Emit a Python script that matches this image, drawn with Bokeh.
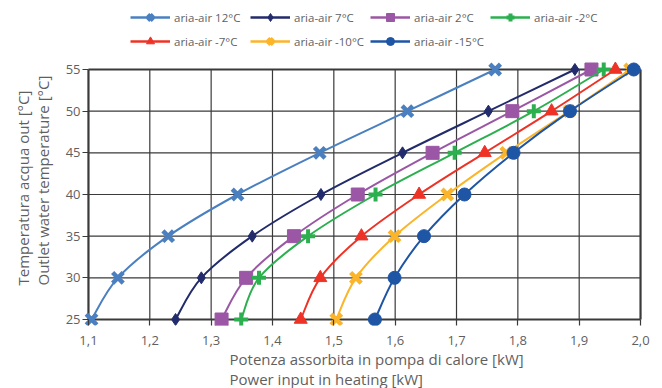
import math
from bokeh.plotting import figure
from bokeh.models import (Legend, LegendItem, FixedTicker, CustomJSTickFormatter,
                          Range1d, ColumnDataSource, Title)
from bokeh.embed import file_html
from bokeh.resources import INLINE

# ---------------- data ----------------
temps = [25, 30, 35, 40, 45, 50, 55]
labels = ["aria-air 12°C", "aria-air 7°C", "aria-air 2°C", "aria-air -2°C",
          "aria-air -7°C", "aria-air -10°C", "aria-air -15°C"]
p_12 = [1.105, 1.148, 1.230, 1.343, 1.477, 1.620, 1.763]
p_7 = [1.242, 1.284, 1.367, 1.479, 1.612, 1.752, 1.893]
p_2 = [1.317, 1.357, 1.435, 1.539, 1.661, 1.791, 1.920]
p_m2 = [1.349, 1.378, 1.458, 1.568, 1.697, 1.826, 1.940]
p_m7 = [1.446, 1.478, 1.545, 1.639, 1.746, 1.855, 1.959]
p_m10 = [1.504, 1.536, 1.599, 1.685, 1.781, 1.884, 1.983]
p_m15 = [1.567, 1.599, 1.647, 1.713, 1.793, 1.885, 1.989]
x_ticks = [1.1, 1.2, 1.3, 1.4, 1.5, 1.6, 1.7, 1.8, 1.9, 2.0]
y_ticks = [25, 30, 35, 40, 45, 50, 55]
x_title = "Potenza assorbita in pompa di calore [kW]\nPower input in heating [kW]"
y_title = "Temperatura acqua out [°C]\nOutlet water temperature [°C]"

series = [p_12, p_7, p_2, p_m2, p_m7, p_m10, p_m15]
colors = ["#4b80c0", "#222b6b", "#9b57a5", "#2cb04f", "#ee3326", "#fbb52a", "#1f55a5"]
markers = ["x", "diamond", "square", "cross", "triangle", "x", "circle"]
msizes = [15, 12, 13, 14, 13, 15, 13]
mlw = [4.5, 1, 1, 4, 1, 4.5, 1]

FONT = "Open Sans"
TXT = "#5f5f5f"
AX = "#3a3a3a"

# layout: the box (1.1..2.0, 25..55) is 555 x 250 px; the frame extends a little
# beyond it (and up to the top of the figure, where the legend sits)
BOX_W, BOX_H, PAD, TOP = 555, 250, 6, 69
xmin, xmax, ymin, ymax = x_ticks[0], x_ticks[-1], y_ticks[0], y_ticks[-1]
xpad = (xmax - xmin) / BOX_W * PAD
ypad = (ymax - ymin) / BOX_H * PAD
ytop = (ymax - ymin) / BOX_H * TOP


def smooth_segments(xs, ys):
    """Bezier control points (Catmull-Rom) for a smooth line through the points."""
    X = [xs[0]] + list(xs) + [xs[-1]]
    Y = [ys[0]] + list(ys) + [ys[-1]]
    d = dict(x0=[], y0=[], x1=[], y1=[], cx0=[], cy0=[], cx1=[], cy1=[])
    for i in range(len(xs) - 1):
        a, b, c, e = i, i + 1, i + 2, i + 3
        d["x0"].append(X[b]); d["y0"].append(Y[b])
        d["x1"].append(X[c]); d["y1"].append(Y[c])
        d["cx0"].append(X[b] + (X[c] - X[a]) / 6.0)
        d["cy0"].append(Y[b] + (Y[c] - Y[a]) / 6.0)
        d["cx1"].append(X[c] - (X[e] - X[b]) / 6.0)
        d["cy1"].append(Y[c] - (Y[e] - Y[b]) / 6.0)
    return d


p = figure(width=662, height=388, output_backend="svg", toolbar_location=None,
           x_range=Range1d(xmin - xpad, xmax + xpad),
           y_range=Range1d(ymin - ypad, ymax + ytop),
           min_border_left=79, min_border_right=16, min_border_top=0,
           min_border_bottom=63)
p.background_fill_color = "white"
p.border_fill_color = "white"
p.outline_line_color = None
p.xgrid.visible = False
p.ygrid.visible = False

# grid and box drawn from the tick values
inner_x = x_ticks[1:-1]
inner_y = y_ticks[1:-1]
p.segment(x0=inner_x, y0=[ymin] * len(inner_x), x1=inner_x, y1=[ymax] * len(inner_x),
          line_color=AX, line_width=1.2)
p.segment(x0=[xmin] * len(inner_y), y0=inner_y, x1=[xmax] * len(inner_y), y1=inner_y,
          line_color=AX, line_width=1.2)
p.segment(x0=[xmin, xmax, xmin, xmin], y0=[ymin, ymin, ymin, ymax],
          x1=[xmin, xmax, xmax, xmax], y1=[ymax, ymax, ymin, ymax],
          line_color=AX, line_width=2.2)

p.xaxis.ticker = FixedTicker(ticks=x_ticks)
p.yaxis.ticker = FixedTicker(ticks=y_ticks)
p.xaxis.formatter = CustomJSTickFormatter(code="return tick.toFixed(1).replace('.', ',');")
for ax in (p.xaxis, p.yaxis):
    ax.axis_line_color = None
    ax.major_tick_line_color = AX
    ax.major_tick_line_width = 1.2
    ax.major_tick_out = 0
    ax.major_tick_in = PAD
    ax.minor_tick_line_color = None
    ax.major_label_text_font = FONT
    ax.major_label_text_font_size = "13px"
    ax.major_label_text_color = TXT
p.xaxis.major_label_standoff = 10
p.yaxis.major_label_standoff = 2

items = []
for vals, lab, col, mk, ms, lw in zip(series, labels, colors, markers, msizes, mlw):
    src = ColumnDataSource(smooth_segments(vals, temps))
    p.bezier(x0="x0", y0="y0", x1="x1", y1="y1", cx0="cx0", cy0="cy0",
             cx1="cx1", cy1="cy1", source=src, line_color=col, line_width=2)
    r_key = p.line(vals, temps, line_color=col, line_width=2.5, visible=False)
    r_mk = p.scatter(vals, temps, marker=mk, size=ms, fill_color=col,
                     line_color=col, line_width=lw)
    items.append(LegendItem(label=lab, renderers=[r_key, r_mk]))

legend = Legend(items=items, ncols=4, orientation="horizontal",
                location=(48, BOX_H + PAD + 18),
                glyph_width=40, glyph_height=20, label_height=20, label_width=72,
                label_standoff=4, spacing=4, padding=0, margin=0,
                label_text_font=FONT, label_text_font_size="11.5px",
                label_text_color=TXT, border_line_alpha=0,
                background_fill_alpha=0)
p.add_layout(legend, "center")

p.add_layout(Title(text=x_title, align="left", offset=147, standoff=-1,
                   text_font=FONT, text_font_size="15px", text_font_style="normal",
                   text_color=TXT), "below")
p.add_layout(Title(text=y_title, align="left", offset=40, standoff=20,
                   text_font=FONT, text_font_size="15px", text_font_style="normal",
                   text_color=TXT), "left")

open("out.html", "w").write(file_html(p, INLINE))
